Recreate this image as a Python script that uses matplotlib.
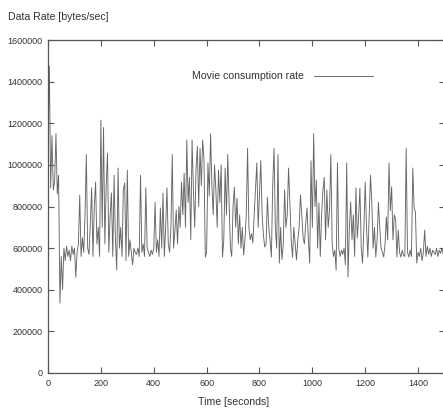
import numpy as np
import matplotlib.pyplot as plt

plt.rcParams['font.family'] = ['Liberation Sans', 'DejaVu Sans']

rate_k = [
    1080, 1475, 890, 1140, 880, 920, 1150, 860, 950, 336,
    560, 400, 600, 540, 610, 560, 590, 540, 610, 570,
    600, 460, 580, 620, 855, 560, 650, 580, 760, 1050,
    600, 570, 720, 890, 560, 800, 918, 620, 700, 560,
    1215, 700, 1180, 620, 900, 1057, 580, 760, 865, 560,
    950, 640, 495, 985, 600, 700, 560, 880, 913, 540,
    975, 560, 640, 580, 520, 600, 580, 570, 600, 560,
    950, 580, 620, 560, 890, 600, 580, 560, 590, 570,
    600, 820, 580, 640, 560, 793, 600, 865, 560, 700,
    890, 620, 580, 700, 1050, 600, 680, 783, 620, 800,
    700, 918, 760, 960, 700, 1120, 820, 940, 640, 1120,
    880, 700, 980, 1090, 800, 1080, 900, 1120, 1030, 557,
    580, 1010, 850, 1150, 900, 760, 1000, 880, 700, 975,
    820, 1000, 557, 640, 985, 760, 1050, 820, 600, 560,
    800, 894, 700, 840, 620, 760, 600, 700, 567, 640,
    760, 1080, 700, 640, 670, 625, 760, 880, 1010, 700,
    860, 1020, 760, 660, 605, 620, 845, 700, 640, 557,
    900, 1080, 700, 600, 1050, 528, 700, 545, 620, 880,
    700, 760, 985, 820, 640, 557, 700, 620, 543, 640,
    700, 855, 760, 650, 620, 720, 793, 640, 528, 1020,
    700, 1150, 800, 927, 600, 817, 560, 760, 880, 940,
    640, 880, 700, 783, 1050, 620, 560, 590, 495, 1010,
    600, 560, 590, 570, 600, 520, 1010, 461, 700, 822,
    640, 760, 560, 890, 650, 745, 888, 600, 528, 700,
    918, 700, 557, 760, 950, 820, 600, 700, 557, 640,
    820, 700, 600, 580, 557, 620, 750, 640, 1010, 780,
    895, 640, 760, 740, 557, 687, 580, 557, 590, 565,
    560, 1080, 580, 557, 590, 560, 985, 793, 774, 528,
    580, 560, 600, 540, 580, 687, 560, 610, 570, 600,
    560, 590, 580, 570, 600, 560, 590, 575, 600, 570,
]
time_s = np.arange(len(rate_k)) * 5
rate = np.array(rate_k) * 1000

yticks = list(range(0, 1600001, 200000))
xticks = list(range(0, 1401, 200))

fig = plt.figure(figsize=(4.43, 4.08), dpi=100)
ax = fig.add_axes([0.1084, 0.0858, 0.895, 0.816])

ax.plot(time_s, rate, color='#666666', lw=0.65, label='Movie consumption rate')

ax.set_xlim(0, 1500)
ax.set_ylim(0, 1600000)
ax.set_xticks(xticks)
ax.set_yticks(yticks)
ax.set_yticklabels([str(v) for v in yticks])
ax.tick_params(direction='in', length=4, width=0.8, color='#555555',
               top=True, right=True, labelsize=6.5, labelcolor='#333333', pad=4)
for s in ax.spines.values():
    s.set_color('#555555')
    s.set_linewidth(0.9)

fig.text(8 / 443, 1 - 17 / 408, 'Data Rate [bytes/sec]', fontsize=7.6,
         color='#333333', va='center', ha='left')
fig.text(234 / 443, 1 - 402 / 408, 'Time [seconds]', fontsize=7.6,
         color='#333333', va='center', ha='center')

ax.legend(loc='upper left', bbox_to_anchor=(0.34, 0.935), frameon=False,
          markerfirst=False, handlelength=5.6, fontsize=7.6,
          labelcolor='#333333', handletextpad=0.9)

fig.savefig('out.png', dpi=100)
